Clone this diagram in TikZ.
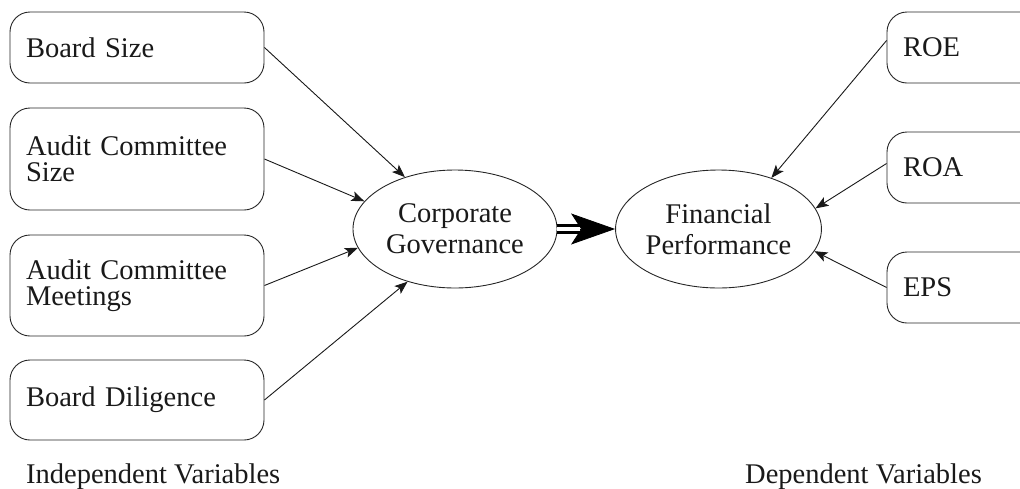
\documentclass[tikz,border=0pt]{standalone}
\usepackage{fontspec}
\setmainfont{Liberation Serif}
\usetikzlibrary{arrows.meta,shapes.geometric}
\begin{document}
\begin{tikzpicture}[x=1pt,y=-1pt,
  txt/.style={font=\fontsize{28.5}{26}\selectfont, text=black!90},
  varbox/.style={txt, draw=black!85, line width=0.9pt, rounded corners=20pt,
    text width=222pt, align=left, inner xsep=16pt, inner ysep=0pt},
  rbox/.style={varbox, text width=126pt},
  ell/.style={draw=black!85, line width=0.9pt, ellipse, inner sep=0pt,
    minimum height=118pt, align=center,
    font=\fontsize{28.5}{31}\selectfont, text=black!90},
  arr/.style={draw=black!90, line width=0.9pt, -{Stealth[length=13pt,width=10pt,inset=3pt]}},
  label/.style={txt, inner sep=0pt}
]
\useasboundingbox (0,0) rectangle (1020,488);
\clip (0,0) rectangle (1020,488);

% left boxes
\node[varbox, minimum height=71pt]  (b1) at (137,47.5)  {Board Size};
\node[varbox, minimum height=102pt] (b2) at (137,159)   {Audit Committee\\Size};
\node[varbox, minimum height=101pt] (b3) at (137,285.5) {Audit Committee\\Meetings};
\node[varbox, minimum height=80pt]  (b4) at (137,400)   {Board Diligence};

% right boxes (cut off by the picture edge)
\node[rbox, minimum height=71pt] (roe) at (966,47.5)  {ROE};
\node[rbox, minimum height=71pt] (roa) at (966,167.5) {ROA};
\node[rbox, minimum height=71pt] (eps) at (966,287.5) {EPS};

% ellipses
\node[ell, minimum width=204pt] (cg) at (455,229)   {Corporate\\Governance};
\node[ell, minimum width=203pt] (fp) at (718.5,229) {Financial\\Performance};

% bottom labels
\node[label, anchor=base west] (iv) at (26,483)  {Independent Variables};
\node[label, anchor=base east] (dv) at (982,483) {Dependent Variables};

% arrows into Corporate Governance
\draw[arr] (b1.east) -- (cg.134);
\draw[arr] (b2.east) -- (cg.163);
\draw[arr] (b3.east) -- (cg.191);
\draw[arr] (b4.east) -- (cg.228);

% arrows into Financial Performance
\draw[arr] ([yshift=7pt]roe.west) -- (fp.44);
\draw[arr] ([yshift=4pt]roa.west) -- (fp.12);
\draw[arr] (eps.west) -- (fp.-13);

% big double arrow
\coordinate (dmid) at (580,229);
\draw[black, line width=0.8pt, -{Stealth[length=44pt,width=31pt,inset=10pt]}] (cg.east) -- (fp.west);
\draw[black, double=white, line width=2.8pt, double distance=3.5pt] (cg.east) -- (dmid);
\end{tikzpicture}
\end{document}
